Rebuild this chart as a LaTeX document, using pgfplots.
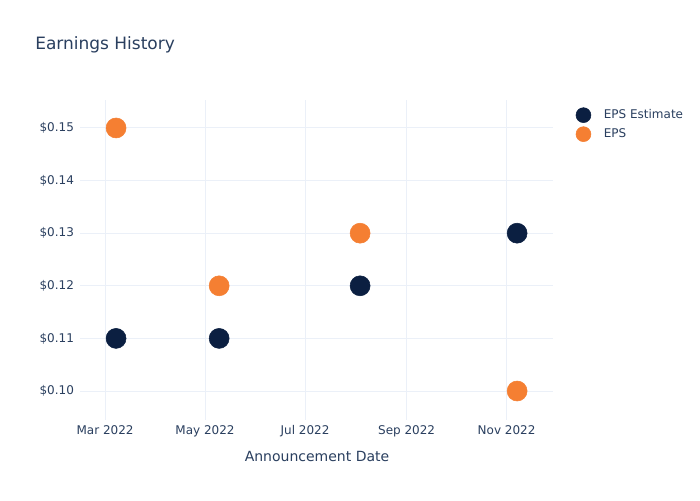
\documentclass[border=0pt]{standalone}
\usepackage{pgfplots}
\pgfplotsset{compat=1.18}
\usepackage{fontspec}
\setmainfont{DejaVu Sans}
\definecolor{txt}{HTML}{2A3F5F}
\definecolor{grd}{HTML}{EBF0F8}
\definecolor{navy}{HTML}{0B1F41}
\definecolor{orng}{HTML}{F57F32}
\begin{document}
\begin{tikzpicture}
\path[fill=white] (0,0) rectangle (525pt,375pt);
\begin{axis}[
  at={(60pt,60pt)}, anchor=south west,
  scale only axis, width=354.75pt, height=240pt,
  xmin=43.7, xmax=332.3, ymin=0.09449, ymax=0.15532,
  axis line style={draw=none},
  tick style={draw=none},
  grid=major, major grid style={grd, line width=0.75pt},
  xtick={59,120,181,243,304},
  xticklabels={Mar 2022,May 2022,Jul 2022,Sep 2022,Nov 2022},
  ytick={0.10,0.11,0.12,0.13,0.14,0.15},
  yticklabels={\$0.10,\$0.11,\$0.12,\$0.13,\$0.14,\$0.15},
  ticklabel style={font=\fontsize{9}{11}\selectfont, text=txt},
  xticklabel style={yshift=-0.5pt},
  yticklabel style={xshift=-1pt},
  legend style={draw=none, fill=none, at={(rel axis cs:1.039,0.9875)}, anchor=north west,
    font=\fontsize{9}{11}\selectfont, text=txt, row sep=2pt,
    /tikz/every odd column/.append style={column sep=7.5pt}},
  legend cell align=left,
  legend image code/.code={\fill[#1] (0pt,0pt) circle (5.6pt);},
]
\addplot[only marks, mark=*, mark size=7.5pt, color=navy, mark options={draw=none, fill=navy}]
  coordinates {(65.7,0.11) (128.6,0.11) (214.6,0.12) (310.4,0.13)};
\addlegendentry{EPS Estimate}
\addplot[only marks, mark=*, mark size=7.5pt, color=orng, mark options={draw=none, fill=orng}]
  coordinates {(65.7,0.15) (128.6,0.12) (214.6,0.13) (310.4,0.10)};
\addlegendentry{EPS}
\end{axis}
\node[anchor=base west, inner sep=0pt, font=\fontsize{12.75}{15}\selectfont, text=txt] at (26.25pt,337.5pt) {Earnings History};
\node[anchor=center, font=\fontsize{10.5}{13}\selectfont, text=txt] at (237.75pt,33pt) {Announcement Date};
\end{tikzpicture}
\end{document}
